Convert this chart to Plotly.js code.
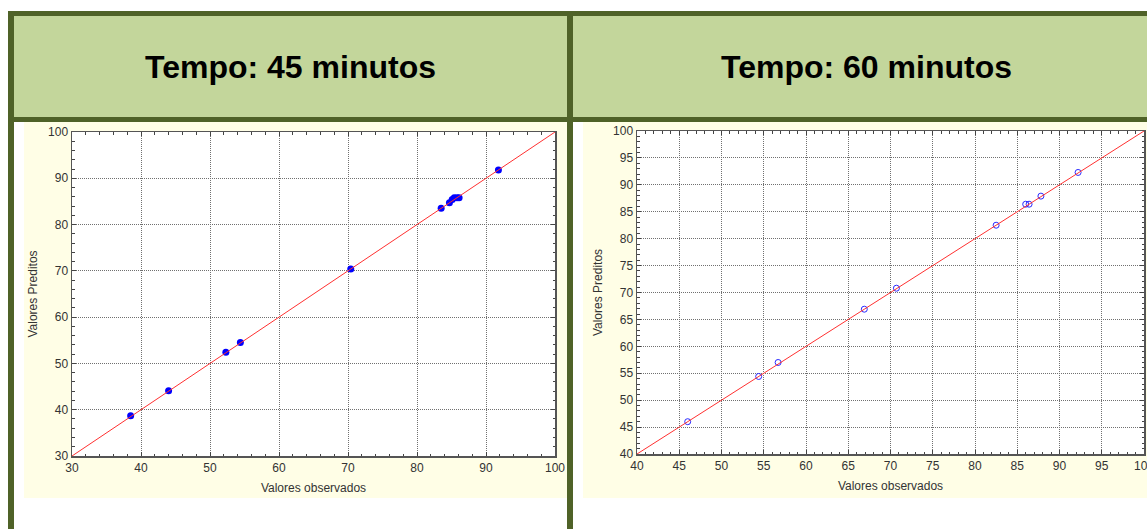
<!DOCTYPE html>
<html><head><meta charset="utf-8">
<script src="https://cdn.plot.ly/plotly-3.0.1.min.js"></script>
<style>html,body{margin:0;padding:0;background:#fff;overflow:hidden}#chart{width:1147px;height:529px;}</style>
</head><body><div id="chart"></div>
<script>
const titles = ["Tempo: 45 minutos", "Tempo: 60 minutos"];
const xTitle = "Valores observados";
const yTitle = "Valores Preditos";
const obs45  = [38.5, 44.0, 52.3, 54.4, 70.4, 83.5, 84.7, 85.1, 85.4, 85.8, 86.1, 91.8];
const pred45 = [38.7, 44.1, 52.4, 54.5, 70.4, 83.5, 84.7, 85.4, 85.8, 85.8, 85.8, 91.8];
const obs60  = [46.0, 54.4, 56.7, 66.9, 70.7, 82.5, 86.0, 86.4, 87.8, 92.2];
const pred60 = [46.0, 54.4, 57.0, 66.9, 70.8, 82.5, 86.4, 86.4, 87.9, 92.3];
const range45 = [30, 100];
const range60 = [40, 100];
const major45 = 10, minor45 = 2;
const major60 = 5, minor60 = 1;

const W = 1147, H = 529;
const px = x => x / W, py = y => 1 - y / H;
const tickFont = {family: 'Liberation Sans, Arial, sans-serif', size: 12, color: '#333'};
const borderColor = '#4f6228';

function axis(domain, range, dtick, mdtick, title, anchor, standoff) {
  return {
    domain: domain, range: range, anchor: anchor, tick0: range[0], dtick: dtick,
    ticks: 'inside', ticklen: 4, tickcolor: '#444', tickwidth: 1,
    showline: true, linecolor: '#555', linewidth: 1.5, mirror: 'allticks',
    showgrid: true, gridcolor: '#707070', gridwidth: 1, griddash: '1px,1px', zeroline: false,
    minor: {dtick: mdtick, tick0: range[0], ticks: 'inside', ticklen: 2.5, tickcolor: '#444', showgrid: false},
    tickfont: tickFont, automargin: false, fixedrange: true, ticklabeloverflow: 'allow',
    title: {text: title, font: tickFont, standoff: standoff}
  };
}

const traces = [
  {x: obs45, y: pred45, xaxis: 'x', yaxis: 'y', mode: 'markers', type: 'scatter',
   marker: {color: '#0000ff', size: 7, line: {width: 0}}, hoverinfo: 'x+y'},
  {x: range45, y: range45, xaxis: 'x', yaxis: 'y', mode: 'lines', type: 'scatter',
   line: {color: '#ff3030', width: 1}, hoverinfo: 'skip'},
  {x: obs60, y: pred60, xaxis: 'x2', yaxis: 'y2', mode: 'markers', type: 'scatter',
   marker: {color: '#2a2aff', size: 6, symbol: 'circle-open', line: {width: 1}}, hoverinfo: 'x+y'},
  {x: range60, y: range60, xaxis: 'x2', yaxis: 'y2', mode: 'lines', type: 'scatter',
   line: {color: '#ff3030', width: 1}, hoverinfo: 'skip'}
];

function rect(x0, x1, y0, y1, color, layer) {
  return {type: 'rect', xref: 'paper', yref: 'paper', x0: px(x0), x1: px(x1), y0: py(y1), y1: py(y0),
          fillcolor: color, line: {width: 0}, layer: layer};
}

const shapes = [
  rect(8, W, 11, 122, '#c3d69b', 'below'),
  rect(24, 567, 122, 498, '#fffee6', 'below'),
  rect(583, W, 122, 498, '#fffee6', 'below'),
  rect(72, 555, 132, 456, '#ffffff', 'below'),
  rect(637, 1144, 131, 454, '#ffffff', 'below'),
  rect(8, W, 11, 16, borderColor, 'above'),
  rect(8, W, 117, 122, borderColor, 'above'),
  rect(8, 14, 11, H, borderColor, 'above'),
  rect(567, 573, 11, H, borderColor, 'above')
];

const titleFont = {family: 'Liberation Sans, Arial, sans-serif', size: 32, color: '#000'};
const annotations = [
  {text: '<b>' + titles[0] + '</b>', x: px(290), y: py(67), xref: 'paper', yref: 'paper', showarrow: false, font: titleFont, xanchor: 'center', yanchor: 'middle'},
  {text: '<b>' + titles[1] + '</b>', x: px(866), y: py(67), xref: 'paper', yref: 'paper', showarrow: false, font: titleFont, xanchor: 'center', yanchor: 'middle'}
];

const layout = {
  width: W, height: H, margin: {l: 0, r: 0, t: 0, b: 0, pad: 0},
  paper_bgcolor: '#ffffff', plot_bgcolor: '#ffffff', showlegend: false,
  xaxis: axis([px(72), px(555)], range45, major45, minor45, xTitle, 'y', 9),
  yaxis: axis([py(456), py(132)], range45, major45, minor45, yTitle, 'x', 8),
  xaxis2: axis([px(637), px(1144)], range60, major60, minor60, xTitle, 'y2', 9),
  yaxis2: axis([py(454), py(131)], range60, major60, minor60, yTitle, 'x2', 8),
  shapes: shapes, annotations: annotations
};

Plotly.newPlot('chart', traces, layout, {displayModeBar: false, staticPlot: true});
</script></body></html>
